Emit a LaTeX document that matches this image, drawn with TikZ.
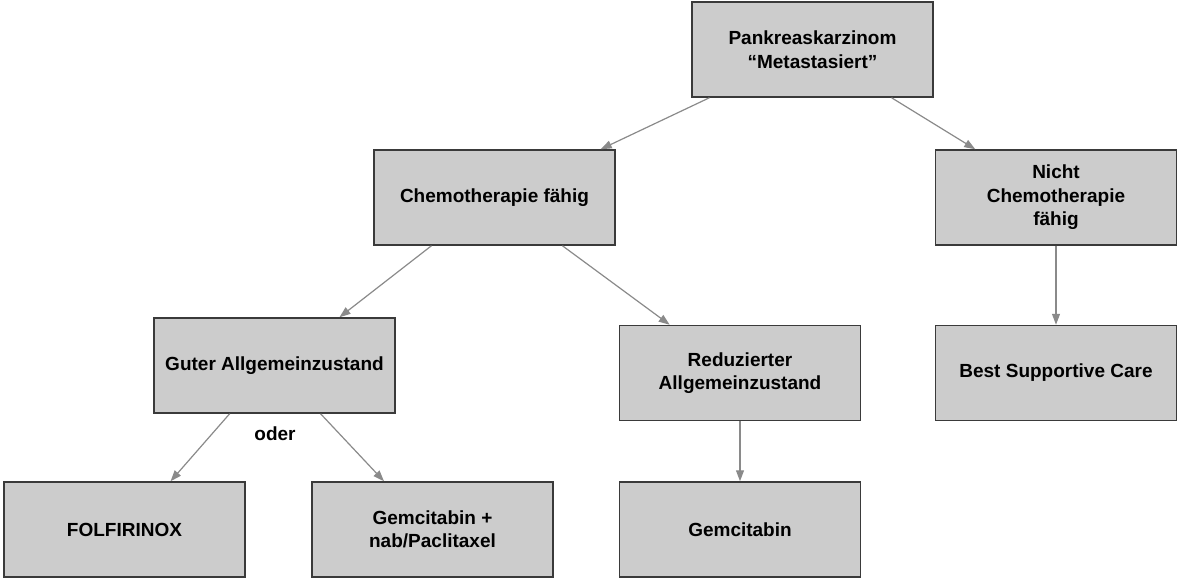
\documentclass[tikz,border=0pt]{standalone}
\usepackage{fontspec}
\setmainfont{Liberation Sans}
\usetikzlibrary{arrows.meta,calc}
\definecolor{boxfill}{HTML}{CCCCCC}
\definecolor{boxline}{HTML}{3A3A3A}
\definecolor{arrowgray}{HTML}{8A8A8A}
\begin{document}
\begin{tikzpicture}[x=1pt,y=-1pt,
  box/.style={draw=boxline, line width=1.5pt, fill=boxfill,
    minimum width=241pt, minimum height=95pt, inner sep=0pt, align=center,
    font=\fontsize{19}{23.5}\selectfont\bfseries},
  lbl/.style={inner sep=0pt, font=\fontsize{19}{23.5}\selectfont\bfseries},
  conn/.style={draw=arrowgray, line width=1.2pt, -{Triangle[length=11pt,width=8pt]}},
]
\useasboundingbox (0,0) rectangle (1178,580);

\node[box] (P) at (812.5,49.5) {Pankreaskarzinom\\“Metastasiert”};
\node[box] (C) at (494.5,197.5) {Chemotherapie fähig};
\node[box] (N) at (1056,197.5) {Nicht\\Chemotherapie\\fähig};
\node[box] (G) at (274.5,365.5) {Guter Allgemeinzustand};
\node[box] (R) at (740,373) {Reduzierter\\Allgemeinzustand};
\node[box] (B) at (1056,373) {Best Supportive Care};
\node[box] (F) at (124.5,529.5) {FOLFIRINOX};
\node[box] (GP) at (432.5,529.5) {Gemcitabin +\\nab/Paclitaxel};
\node[box] (GM) at (740,529.5) {Gemcitabin};
\node[lbl] (oder) at (275,434) {oder};

\draw[conn] ($(P.south west)!0.075!(P.south east)$) -- ($(C.north west)!0.938!(C.north east)$);
\draw[conn] ($(P.south west)!0.826!(P.south east)$) -- ($(N.north west)!0.167!(N.north east)$);
\draw[conn] ($(C.south west)!0.24!(C.south east)$) -- ($(G.north west)!0.768!(G.north east)$);
\draw[conn] ($(C.south west)!0.78!(C.south east)$) -- ($(R.north west)!0.21!(R.north east)$);
\draw[conn] (N.south) -- (B.north);
\draw[conn] ($(G.south west)!0.315!(G.south east)$) -- ($(F.north west)!0.69!(F.north east)$);
\draw[conn] ($(G.south west)!0.69!(G.south east)$) -- ($(GP.north west)!0.30!(GP.north east)$);
\draw[conn] (R.south) -- (GM.north);
\end{tikzpicture}
\end{document}
